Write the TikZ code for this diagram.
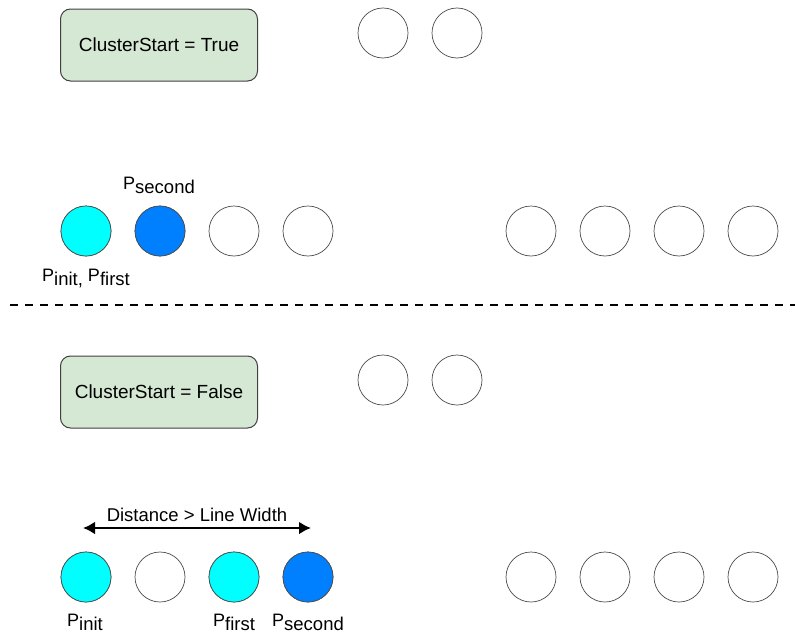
\documentclass[tikz,border=0pt]{standalone}
\usepackage{fontspec}
\setmainfont{Liberation Sans}
\usetikzlibrary{arrows.meta}
\definecolor{boxgreen}{HTML}{D5E8D4}
\definecolor{pcyan}{HTML}{00FFFF}
\definecolor{pblue}{HTML}{007FFF}
% point name with a lowered index
\newcommand{\psub}[1]{P\raisebox{-4pt}{\fontsize{18.5}{20}\selectfont #1}}
\tikzset{
    pt/.style={circle, draw=black!70, line width=0.7pt, minimum size=50pt, inner sep=0pt, fill=white},
    flagbox/.style={draw=black!75, line width=1pt, fill=boxgreen, rounded corners=10pt,
        minimum width=197pt, minimum height=72pt, font=\fontsize{19}{22}\selectfont},
    lbl/.style={font=\fontsize{18}{20}\selectfont, inner sep=0pt, anchor=base west}
}
\begin{document}
\begin{tikzpicture}[x=1pt, y=-1pt]
    \useasboundingbox (0,0) rectangle (795,637);

    % ---- ClusterStart = True ----
    \node[flagbox] (flagT) at (159,45) {ClusterStart = True};
    \node[pt] (tA) at (383,33) {};
    \node[pt] (tB) at (457,33) {};

    % points of the first row
    \foreach \X [count=\i] in {86,160,234,308,531,605,679,753} {
        \node[pt] (r\i) at (\X,231) {};
    }
    \node[pt, fill=pcyan] at (r1) {};
    \node[pt, fill=pblue] at (r2) {};
    \node[lbl] (secT) at (123,189) {\psub{second}};
    \node[lbl] (initT) at (42,281) {\psub{init,} \psub{first}};

    % separator
    \draw[line width=2pt, dash pattern=on 8pt off 7pt] (10,305) -- (795,305);

    % ---- ClusterStart = False ----
    \node[flagbox] (flagF) at (159,392) {ClusterStart = False};
    \node[pt] (fA) at (383,380) {};
    \node[pt] (fB) at (457,380) {};

    % points of the second row
    \foreach \X [count=\i] in {86,160,234,308,531,605,679,753} {
        \node[pt] (s\i) at (\X,577) {};
    }
    \node[pt, fill=pcyan] at (s1) {};
    \node[pt, fill=pcyan] at (s3) {};
    \node[pt, fill=pblue] at (s4) {};
    \node[lbl] (initF) at (67,626) {\psub{init}};
    \node[lbl] (firstF) at (213,626) {\psub{first}};
    \node[lbl] (secF) at (272,626) {\psub{second}};

    % distance arrow
    \coordinate (dL) at (83,528);
    \coordinate (dR) at (311,528);
    \draw[line width=2.5pt, {Latex[length=12pt,width=13pt]}-{Latex[length=12pt,width=13pt]}] (dL) -- (dR);
    \node[font=\fontsize{18.5}{20}\selectfont, inner sep=0pt] (dist) at (197,515) {Distance > Line Width};
\end{tikzpicture}
\end{document}
